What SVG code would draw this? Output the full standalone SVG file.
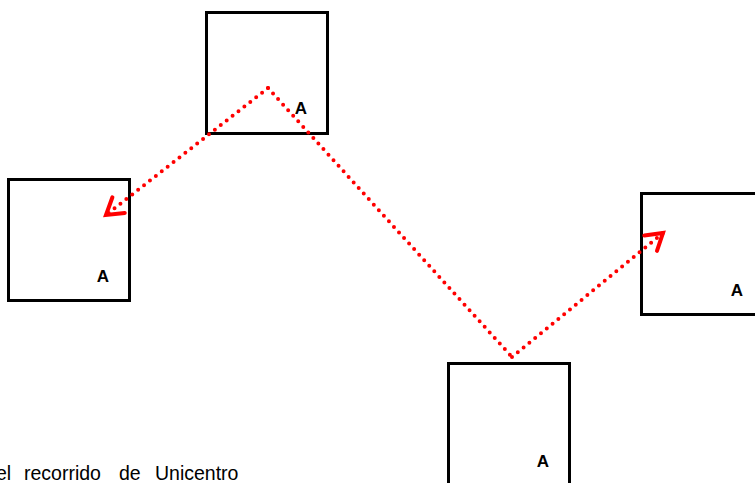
<svg xmlns="http://www.w3.org/2000/svg" width="755" height="483" viewBox="0 0 755 483">
  <style>
    .box { fill: #ffffff; stroke: #000000; stroke-width: 3; }
    .lbl { font-family: "Liberation Sans", Arial, sans-serif; font-weight: bold; font-size: 17px; fill: #000000; text-anchor: middle; }
    .route { fill: none; stroke: #ff0000; stroke-width: 4; stroke-linecap: round; stroke-dasharray: 0 7.5; }
    .cap { font-family: "Liberation Sans", Arial, sans-serif; font-size: 19.5px; fill: #000000; }
  </style>
  <defs>
    <marker id="head" markerUnits="userSpaceOnUse" markerWidth="30" markerHeight="30" viewBox="-20 -15 30 30" refX="0" refY="0" orient="auto">
      <path d="M -16 -10 L 0 0 L -16 10" fill="none" stroke="#ff0000" stroke-width="4" stroke-linecap="round" stroke-linejoin="miter"/>
    </marker>
  </defs>
  <rect width="755" height="483" fill="#ffffff"/>

  <g id="node-left">
    <rect class="box" x="8.5" y="179.5" width="121" height="121"/>
    <text class="lbl" x="103" y="282">A</text>
  </g>
  <g id="node-top">
    <rect class="box" x="206.5" y="12.5" width="121" height="121"/>
    <text class="lbl" x="301" y="114">A</text>
  </g>
  <g id="node-bottom">
    <rect class="box" x="448.5" y="363.5" width="121" height="130"/>
    <text class="lbl" x="543" y="467">A</text>
  </g>
  <g id="node-right">
    <rect class="box" x="641.5" y="193.5" width="121" height="121"/>
    <text class="lbl" x="737" y="296">A</text>
  </g>

  <g id="connectors">
    <path class="route" d="M 268 88 L 106 215" marker-end="url(#head)"/>
    <path class="route" d="M 268 88 L 512 357"/>
    <path class="route" d="M 512 357 L 663 233" marker-end="url(#head)"/>
  </g>

  <text class="cap" y="480"><tspan x="-4">el</tspan><tspan x="24">recorrido</tspan><tspan x="119">de</tspan><tspan x="155">Unicentro</tspan></text>
</svg>
